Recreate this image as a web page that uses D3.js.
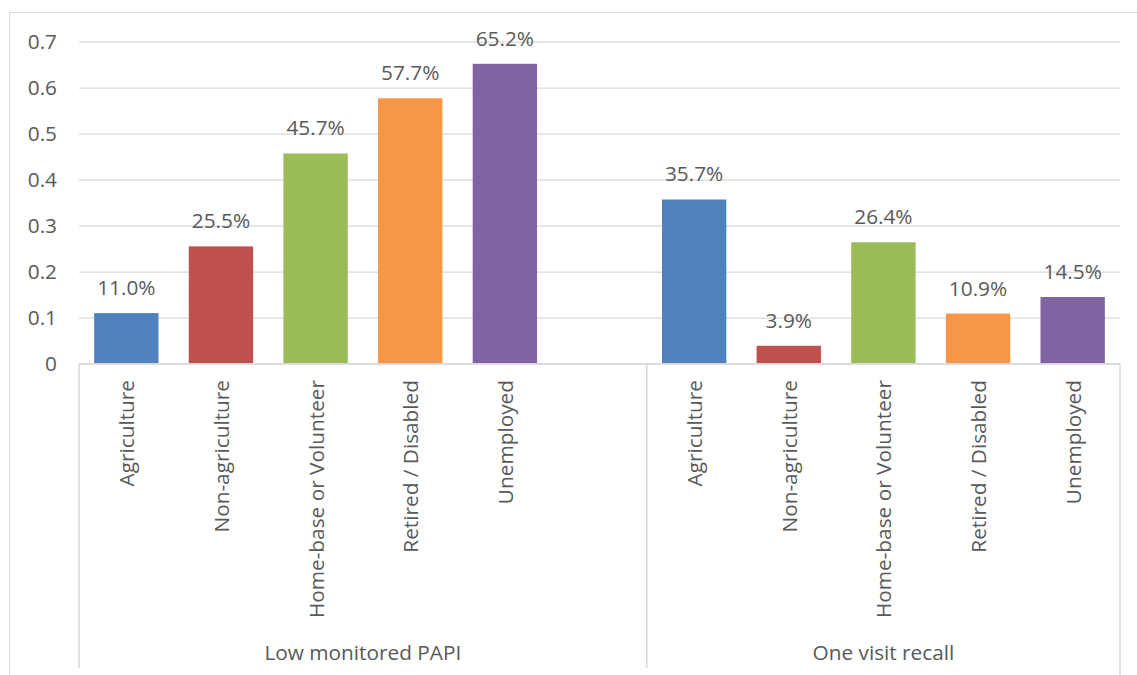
<!DOCTYPE html>
<html>
<head>
<meta charset="utf-8">
<script src="https://cdn.jsdelivr.net/npm/d3@7"></script>
<style>
  body { margin: 0; background: #fff; }
  text { font-family: "Open Sans", "Liberation Sans", sans-serif; fill: #595959; }
</style>
</head>
<body>
<div id="chart"></div>
<script>
// data
const groups = ["Low monitored PAPI", "One visit recall"]
const categories = ["Agriculture", "Non-agriculture", "Home-base or Volunteer", "Retired / Disabled", "Unemployed"]
const lowPapiValues = [0.110, 0.255, 0.457, 0.577, 0.652]
const oneVisitValues = [0.357, 0.039, 0.264, 0.109, 0.145]
const colors = ["#4F81BD", "#C0504D", "#9BBB59", "#F79646", "#8064A2"]
const yTicks = [0, 0.1, 0.2, 0.3, 0.4, 0.5, 0.6, 0.7]

const WIDTH = 1137, HEIGHT = 675
const PLOT = { left: 79, right: 1120, top: 41.7, bottom: 363.7 }
const FONT = "20.8px"

// one row per slot; the first group carries an empty slot at its end
const rows = []
categories.forEach((c, i) => rows.push({ key: "0|" + c, group: 0, cat: c, value: lowPapiValues[i], color: colors[i] }))
rows.push({ key: "0|", group: 0, cat: "", value: null })
categories.forEach((c, i) => rows.push({ key: "1|" + c, group: 1, cat: c, value: oneVisitValues[i], color: colors[i] }))

const svg = d3.select("#chart")
    .append("svg")
    .attr("width", WIDTH)
    .attr("height", HEIGHT)

// outer chart border (right / bottom edges fall outside the picture)
svg.append("path")
    .attr("d", "M9.5," + HEIGHT + " V12.5 H" + WIDTH)
    .attr("fill", "none")
    .attr("stroke", "#d9d9d9")
    .attr("stroke-width", 1)

const X = d3.scaleBand()
    .domain(rows.map(d => d.key))
    .range([PLOT.left, PLOT.right])
    .paddingInner(0.32)
    .paddingOuter(0.16)

const Y = d3.scaleLinear()
    .domain([0, 0.7])
    .range([PLOT.bottom, PLOT.top])

// gridlines + y labels
const yAxis = svg.append("g")
    .attr("transform", "translate(" + PLOT.left + ",0)")
    .call(d3.axisLeft(Y).tickValues(yTicks).tickFormat(d => d === 0 ? "0" : d3.format(".1f")(d))
        .tickSize(-(PLOT.right - PLOT.left)).tickPadding(22))
yAxis.select(".domain").remove()
yAxis.selectAll(".tick line").attr("stroke", "#d9d9d9").attr("stroke-width", 1.3)
yAxis.selectAll(".tick text")
    .attr("font-size", FONT)
    .attr("fill", "#595959")
    .style("font-family", "'Open Sans', 'Liberation Sans', sans-serif")

// bars
svg.selectAll("rect.bar")
    .data(rows.filter(d => d.value !== null))
    .enter()
    .append("rect")
    .attr("class", "bar")
    .attr("x", d => X(d.key))
    .attr("y", d => Y(d.value))
    .attr("width", X.bandwidth())
    .attr("height", d => Y(0) - Y(d.value))
    .attr("fill", d => d.color)

// value labels
svg.selectAll("text.val")
    .data(rows.filter(d => d.value !== null))
    .enter()
    .append("text")
    .attr("class", "val")
    .attr("x", d => X(d.key) + X.bandwidth() / 2)
    .attr("y", d => Y(d.value) - 18)
    .attr("text-anchor", "middle")
    .attr("font-size", FONT)
    .text(d => d3.format(".1%")(d.value))

// baseline
svg.append("line")
    .attr("x1", PLOT.left).attr("x2", PLOT.right)
    .attr("y1", Y(0)).attr("y2", Y(0))
    .attr("stroke", "#d9d9d9").attr("stroke-width", 1.5)

// group separators
const slotLeft = key => X(key) - X.step() * X.paddingInner() / 2
const seps = [slotLeft("0|" + categories[0]), slotLeft("1|" + categories[0]), PLOT.right]
svg.selectAll("line.sep")
    .data(seps)
    .enter()
    .append("line")
    .attr("class", "sep")
    .attr("x1", d => d).attr("x2", d => d)
    .attr("y1", Y(0))
    .attr("y2", (d, i) => i == 2 ? HEIGHT : 668)
    .attr("stroke", "#d9d9d9").attr("stroke-width", 1.5)

// rotated category labels
svg.selectAll("text.cat")
    .data(rows.filter(d => d.cat !== ""))
    .enter()
    .append("text")
    .attr("class", "cat")
    .attr("transform", d => "translate(" + (X(d.key) + X.bandwidth() / 2) + ",380) rotate(-90)")
    .attr("text-anchor", "end")
    .attr("dominant-baseline", "central")
    .attr("font-size", FONT)
    .text(d => d.cat)

// group labels
svg.selectAll("text.grp")
    .data(groups)
    .enter()
    .append("text")
    .attr("class", "grp")
    .attr("x", (d, i) => (seps[i] + seps[i + 1]) / 2)
    .attr("y", 660)
    .attr("text-anchor", "middle")
    .attr("font-size", FONT)
    .text(d => d)
</script>
</body>
</html>
